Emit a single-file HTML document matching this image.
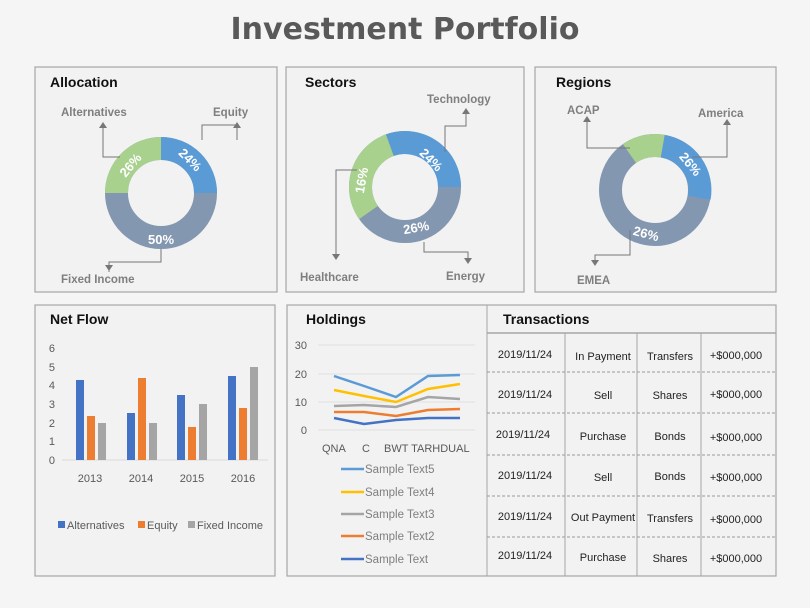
<!DOCTYPE html><html><head><style>body{margin:0;background:#f4f4f4}svg{display:block}text{font-family:"Liberation Sans",sans-serif}.dv{font-family:"DejaVu Sans",sans-serif}</style></head><body>
<svg width="810" height="608" viewBox="0 0 810 608" xmlns="http://www.w3.org/2000/svg">
<rect width="810" height="608" fill="#f5f5f5"/>
<text class="dv" x="405" y="39" text-anchor="middle" font-size="30" font-weight="bold" fill="#595959">Investment Portfolio</text>
<g fill="#f2f2f2" stroke="#a6a6a6" stroke-width="1.2">
<rect x="35" y="67" width="242" height="225"/><rect x="286" y="67" width="238" height="225"/><rect x="535" y="67" width="241" height="225"/>
<rect x="35" y="305" width="240" height="271"/><rect x="287" y="305" width="489" height="271"/></g>
<g font-weight="bold" font-size="14" fill="#111"><text x="50" y="87">Allocation</text><text x="305" y="87">Sectors</text><text x="556" y="87">Regions</text><text x="50" y="324">Net Flow</text><text x="306" y="324">Holdings</text><text x="503" y="324">Transactions</text></g>
<g fill="none" stroke-width="23">
<circle cx="161" cy="193" r="44.5" stroke="#8497b0"/>
<path d="M161 148.5 A44.5 44.5 0 0 1 205.5 193" stroke="#5b9bd5"/>
<path d="M116.5 193 A44.5 44.5 0 0 1 161 148.5" stroke="#a9d18e"/>
<circle cx="405" cy="187" r="44.5" stroke="#8497b0"/>
<path d="M389.8 145.2 A44.5 44.5 0 0 1 449.5 187" stroke="#5b9bd5"/>
<path d="M368.5 212.5 A44.5 44.5 0 0 1 389.8 145.2" stroke="#a9d18e"/>
<circle cx="655" cy="190" r="44.5" stroke="#8497b0"/>
<path d="M662.7 146.2 A44.5 44.5 0 0 1 699.3 197.7" stroke="#5b9bd5"/>
<path d="M629.5 153.5 A44.5 44.5 0 0 1 662.7 146.2" stroke="#a9d18e"/>
</g>
<g class="dv" font-size="13" font-weight="bold" fill="#fff" text-anchor="middle">
<text x="161" y="244">50%</text><text transform="translate(187,163) rotate(45)">24%</text><text transform="translate(134,168) rotate(-50)">26%</text>
<text transform="translate(428,163) rotate(45)">24%</text><text transform="translate(366,181) rotate(-80)">16%</text><text x="417" y="232" transform="rotate(-10 417 232)">26%</text>
<text transform="translate(687,167) rotate(50)">26%</text><text transform="translate(645,238) rotate(15)">26%</text>
</g>
<g stroke="#777" fill="none" stroke-width="1"><path d="M120 157H103V128"/><path d="M202 140V125H237V129"/><path d="M237 140v-15"/><path d="M161 249v13H109v10"/>
<path d="M445 152V126H466V112"/><path d="M357 170H336V256"/><path d="M424 242v10h44v8"/><path d="M630 148H587V122"/><path d="M692 157H727V125"/><path d="M630 230v25h-35v6"/></g>
<g fill="#777"><path d="M99 128l4-6 4 6z"/><path d="M233 128l4-6 4 6z"/><path d="M105 265l4 6 4-6z"/><path d="M462 114l4-6 4 6z"/><path d="M332 254l4 6 4-6z"/><path d="M464 258l4 6 4-6z"/><path d="M583 122l4-6 4 6z"/><path d="M723 125l4-6 4 6z"/><path d="M591 260l4 6 4-6z"/></g>
<g class="dv" font-size="11.5" font-weight="bold" fill="#7f7f7f"><text x="61" y="116">Alternatives</text><text x="213" y="116">Equity</text><text x="61" y="283">Fixed Income</text><text x="427" y="103">Technology</text><text x="300" y="281">Healthcare</text><text x="446" y="280">Energy</text><text x="567" y="114">ACAP</text><text x="698" y="117">America</text><text x="577" y="284">EMEA</text></g>
<g stroke="#d9d9d9" stroke-width="1"><line x1="62" y1="460" x2="268" y2="460"/></g>
<g font-size="11" fill="#595959" text-anchor="end"><text x="55" y="464">0</text><text x="55" y="445">1</text><text x="55" y="427">2</text><text x="55" y="408">3</text><text x="55" y="389">4</text><text x="55" y="371">5</text><text x="55" y="352">6</text></g>
<g font-size="11" fill="#595959" text-anchor="middle"><text x="90" y="482">2013</text><text x="141" y="482">2014</text><text x="192" y="482">2015</text><text x="243" y="482">2016</text></g>
<g fill="#4472c4"><rect x="76" y="380" width="8" height="80"/><rect x="127" y="413" width="8" height="47"/><rect x="177" y="395" width="8" height="65"/><rect x="228" y="376" width="8" height="84"/></g>
<g fill="#ed7d31"><rect x="87" y="416" width="8" height="44"/><rect x="138" y="378" width="8" height="82"/><rect x="188" y="427" width="8" height="33"/><rect x="239" y="408" width="8" height="52"/></g>
<g fill="#a5a5a5"><rect x="98" y="423" width="8" height="37"/><rect x="149" y="423" width="8" height="37"/><rect x="199" y="404" width="8" height="56"/><rect x="250" y="367" width="8" height="93"/></g>
<g font-size="11" fill="#595959"><rect x="58" y="521" width="7" height="7" fill="#4472c4"/><text x="67" y="529">Alternatives</text><rect x="138" y="521" width="7" height="7" fill="#ed7d31"/><text x="147" y="529">Equity</text><rect x="188" y="521" width="7" height="7" fill="#a5a5a5"/><text x="197" y="529">Fixed Income</text></g>
<g stroke="#e0e0e0"><line x1="318" y1="345" x2="475" y2="345"/><line x1="318" y1="374" x2="475" y2="374"/><line x1="318" y1="402" x2="475" y2="402"/><line x1="318" y1="430" x2="475" y2="430"/></g>
<g font-size="11" fill="#595959" text-anchor="end"><text x="307" y="349">30</text><text x="307" y="378">20</text><text x="307" y="406">10</text><text x="307" y="434">0</text></g>
<g font-size="11" fill="#595959"><text x="322" y="452">QNA</text><text x="362" y="452">C</text><text x="384" y="452">BWT TARHDUAL</text></g>
<g fill="none" stroke-width="2.5">
<polyline stroke="#5b9bd5" points="334,376 364,386 396,397 428,376 460,375"/>
<polyline stroke="#ffc000" points="334,390 364,396 396,402 428,389 460,384"/>
<polyline stroke="#a5a5a5" points="334,406 364,405 396,407 428,397 460,399"/>
<polyline stroke="#ed7d31" points="334,412 364,412 396,416 428,410 460,409"/>
<polyline stroke="#4472c4" points="334,418 364,424 396,420 428,418 460,418"/>
<line stroke="#5b9bd5" x1="341" y1="469" x2="364" y2="469"/><line stroke="#ffc000" x1="341" y1="492" x2="364" y2="492"/><line stroke="#a5a5a5" x1="341" y1="514" x2="364" y2="514"/><line stroke="#ed7d31" x1="341" y1="536" x2="364" y2="536"/><line stroke="#4472c4" x1="341" y1="559" x2="364" y2="559"/>
</g>
<g font-size="11.5" fill="#7f7f7f"><text x="365" y="473">Sample Text5</text><text x="365" y="496">Sample Text4</text><text x="365" y="518">Sample Text3</text><text x="365" y="540">Sample Text2</text><text x="365" y="563">Sample Text</text></g>
<g stroke="#a6a6a6" stroke-width="1"><line x1="487" y1="305" x2="487" y2="576"/><line x1="487" y1="333" x2="776" y2="333" stroke-width="1.5"/><line x1="565" y1="333" x2="565" y2="576"/><line x1="637" y1="333" x2="637" y2="576"/><line x1="701" y1="333" x2="701" y2="576"/></g>
<g stroke="#999" stroke-dasharray="3,2"><line x1="487" y1="372" x2="776" y2="372"/><line x1="487" y1="413" x2="776" y2="413"/><line x1="487" y1="455" x2="776" y2="455"/><line x1="487" y1="496" x2="776" y2="496"/><line x1="487" y1="537" x2="776" y2="537"/></g>
<g font-size="11" fill="#222" text-anchor="middle">
<text x="525" y="358">2019/11/24</text><text x="603" y="360">In Payment</text><text x="670" y="360">Transfers</text><text x="736" y="359">+$000,000</text>
<text x="525" y="398">2019/11/24</text><text x="603" y="399">Sell</text><text x="670" y="399">Shares</text><text x="736" y="398">+$000,000</text>
<text x="523" y="438">2019/11/24</text><text x="603" y="440">Purchase</text><text x="670" y="440">Bonds</text><text x="736" y="441">+$000,000</text>
<text x="525" y="479">2019/11/24</text><text x="603" y="481">Sell</text><text x="670" y="480">Bonds</text><text x="736" y="481">+$000,000</text>
<text x="525" y="520">2019/11/24</text><text x="603" y="521">Out Payment</text><text x="670" y="522">Transfers</text><text x="736" y="523">+$000,000</text>
<text x="525" y="559">2019/11/24</text><text x="603" y="561">Purchase</text><text x="670" y="562">Shares</text><text x="736" y="562">+$000,000</text>
</g>
</svg></body></html>
